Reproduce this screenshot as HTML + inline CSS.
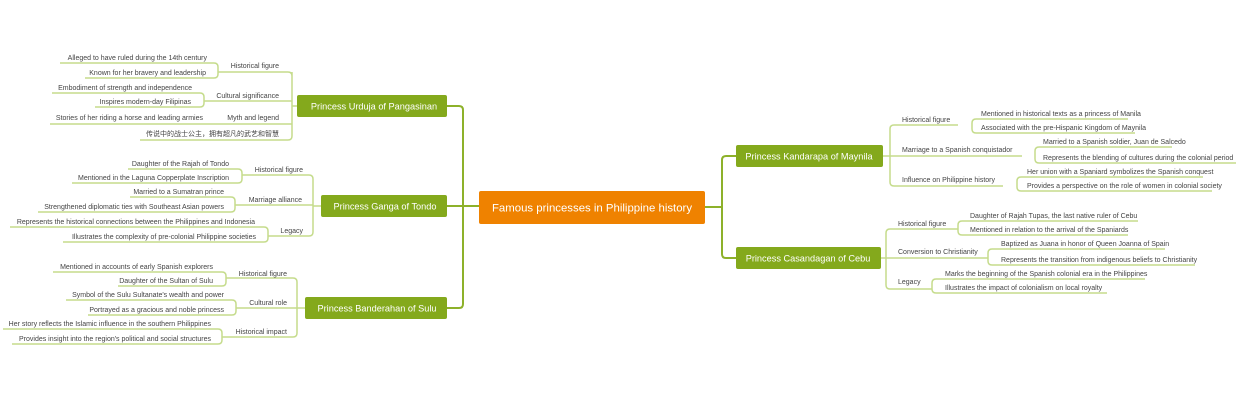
<!DOCTYPE html>
<html><head><meta charset="utf-8"><style>
html,body{margin:0;padding:0;background:#fff;}
svg{display:block}
text{font-family:"Liberation Sans","Noto Sans CJK SC",sans-serif;}
.l{font-size:7px;fill:#444;}
.m{font-size:9.2px;fill:#fff;}
.ln{fill:none;stroke:#c5dc8c;stroke-width:1.5;}
.tr{fill:none;stroke:#8db12a;stroke-width:2;}
</style></head><body>
<svg width="1240" height="400" viewBox="0 0 1240 400" xmlns="http://www.w3.org/2000/svg">
<path class="tr" d="M447 106 H459 Q463 106 463 110 V304 Q463 308 459 308 H447 M447 206 H479"/>
<path class="tr" d="M705 207 H722 M736 156 H726 Q722 156 722 160 V254 Q722 258 726 258 H736"/>
<rect x="479" y="191" width="226" height="33" rx="2" fill="#ef8200"/>
<text x="592" y="211.5" text-anchor="middle" style="font-size:11.4px;fill:#fff">Famous princesses in Philippine history</text>
<rect x="297" y="95" width="150" height="22" rx="2" fill="#84a91c"/>
<text class="m" x="374" y="109.5" text-anchor="middle">Princess Urduja of Pangasinan</text>
<rect x="321" y="195" width="126" height="22" rx="2" fill="#84a91c"/>
<text class="m" x="385" y="209.5" text-anchor="middle">Princess Ganga of Tondo</text>
<rect x="305" y="297" width="142" height="22" rx="2" fill="#84a91c"/>
<text class="m" x="377" y="311.5" text-anchor="middle">Princess Banderahan of Sulu</text>
<rect x="736" y="145" width="147" height="22" rx="2" fill="#84a91c"/>
<text class="m" x="809" y="159.5" text-anchor="middle">Princess Kandarapa of Maynila</text>
<rect x="736" y="247" width="145" height="22" rx="2" fill="#84a91c"/>
<text class="m" x="808" y="261.5" text-anchor="middle">Princess Casandagan of Cebu</text>

<path class="ln" d="M297 106 H292 M292 72 V136 Q292 140 288 140 H140 M292 76 Q292 72 288 72 H218 M292 101 H204 M292 124 H50"/>
<path class="ln" d="M60 63 H214 Q218 63 218 67 V74 Q218 78 214 78 H85 M52 93 H200 Q204 93 204 97 V103 Q204 107 200 107 H95"/>
<text class="l" x="279" y="68" text-anchor="end">Historical figure</text>
<text class="l" x="207" y="60" text-anchor="end">Alleged to have ruled during the 14th century</text>
<text class="l" x="206" y="75" text-anchor="end">Known for her bravery and leadership</text>
<text class="l" x="279" y="98" text-anchor="end">Cultural significance</text>
<text class="l" x="192" y="90" text-anchor="end">Embodiment of strength and independence</text>
<text class="l" x="191" y="104" text-anchor="end">Inspires modern-day Filipinas</text>
<text class="l" x="279" y="120" text-anchor="end">Myth and legend</text>
<text class="l" x="203" y="120" text-anchor="end">Stories of her riding a horse and leading armies</text>
<text class="l" x="279" y="136" text-anchor="end">传说中的战士公主，拥有超凡的武艺和智慧</text>

<path class="ln" d="M321 206 H313 M313 179 Q313 175 309 175 H242 M313 179 V232 Q313 236 309 236 H268 M313 205 H235"/>
<path class="ln" d="M128 169 H238 Q242 169 242 173 V179 Q242 183 238 183 H72 M130 197 H231 Q235 197 235 201 V208 Q235 212 231 212 H38 M10 227 H264 Q268 227 268 231 V238 Q268 242 264 242 H63"/>
<text class="l" x="303" y="172" text-anchor="end">Historical figure</text>
<text class="l" x="229" y="166" text-anchor="end">Daughter of the Rajah of Tondo</text>
<text class="l" x="229" y="180" text-anchor="end">Mentioned in the Laguna Copperplate Inscription</text>
<text class="l" x="302" y="202" text-anchor="end">Marriage alliance</text>
<text class="l" x="224" y="194" text-anchor="end">Married to a Sumatran prince</text>
<text class="l" x="224" y="209" text-anchor="end">Strengthened diplomatic ties with Southeast Asian powers</text>
<text class="l" x="303" y="233" text-anchor="end">Legacy</text>
<text class="l" x="255" y="224" text-anchor="end">Represents the historical connections between the Philippines and Indonesia</text>
<text class="l" x="256" y="239" text-anchor="end">Illustrates the complexity of pre-colonial Philippine societies</text>

<path class="ln" d="M305 308 H236 M297 282 Q297 278 293 278 H226 M297 282 V333 Q297 337 293 337 H222"/>
<path class="ln" d="M53 272 H222 Q226 272 226 276 V282 Q226 286 222 286 H118 M66 300 H232 Q236 300 236 304 V311 Q236 315 232 315 H88 M3 329 H218 Q222 329 222 333 V340 Q222 344 218 344 H12"/>
<text class="l" x="287" y="276" text-anchor="end">Historical figure</text>
<text class="l" x="213" y="269" text-anchor="end">Mentioned in accounts of early Spanish explorers</text>
<text class="l" x="213" y="283" text-anchor="end">Daughter of the Sultan of Sulu</text>
<text class="l" x="287" y="305" text-anchor="end">Cultural role</text>
<text class="l" x="224" y="297" text-anchor="end">Symbol of the Sulu Sultanate's wealth and power</text>
<text class="l" x="224" y="312" text-anchor="end">Portrayed as a gracious and noble princess</text>
<text class="l" x="287" y="334" text-anchor="end">Historical impact</text>
<text class="l" x="211" y="326" text-anchor="end">Her story reflects the Islamic influence in the southern Philippines</text>
<text class="l" x="211" y="341" text-anchor="end">Provides insight into the region's political and social structures</text>

<path class="ln" d="M883 156 H1022 M890 129 Q890 125 894 125 H958 M890 129 V182 Q890 186 894 186 H1003"/>
<path class="ln" d="M1128 119 H976 Q972 119 972 123 V129 Q972 133 976 133 H1135 M1172 147 H1039 Q1035 147 1035 151 V159 Q1035 163 1039 163 H1236 M1203 177 H1021 Q1017 177 1017 181 V187 Q1017 191 1021 191 H1212"/>
<text class="l" x="902" y="122">Historical figure</text>
<text class="l" x="981" y="116">Mentioned in historical texts as a princess of Manila</text>
<text class="l" x="981" y="130">Associated with the pre-Hispanic Kingdom of Maynila</text>
<text class="l" x="902" y="152">Marriage to a Spanish conquistador</text>
<text class="l" x="1043" y="144">Married to a Spanish soldier, Juan de Salcedo</text>
<text class="l" x="1043" y="160">Represents the blending of cultures during the colonial period</text>
<text class="l" x="902" y="182">Influence on Philippine history</text>
<text class="l" x="1027" y="174">Her union with a Spaniard symbolizes the Spanish conquest</text>
<text class="l" x="1027" y="188">Provides a perspective on the role of women in colonial society</text>

<path class="ln" d="M881 258 H988 M886 233 Q886 229 890 229 H958 M886 233 V285 Q886 289 890 289 H932"/>
<path class="ln" d="M1138 221 H962 Q958 221 958 225 V231 Q958 235 962 235 H1128 M1165 249 H992 Q988 249 988 253 V261 Q988 265 992 265 H1195 M1145 279 H936 Q932 279 932 283 V289 Q932 293 936 293 H1107"/>
<text class="l" x="898" y="226">Historical figure</text>
<text class="l" x="970" y="218">Daughter of Rajah Tupas, the last native ruler of Cebu</text>
<text class="l" x="970" y="232">Mentioned in relation to the arrival of the Spaniards</text>
<text class="l" x="898" y="254">Conversion to Christianity</text>
<text class="l" x="1001" y="246">Baptized as Juana in honor of Queen Joanna of Spain</text>
<text class="l" x="1001" y="262">Represents the transition from indigenous beliefs to Christianity</text>
<text class="l" x="898" y="284">Legacy</text>
<text class="l" x="945" y="276">Marks the beginning of the Spanish colonial era in the Philippines</text>
<text class="l" x="945" y="290">Illustrates the impact of colonialism on local royalty</text>
</svg>
</body></html>
